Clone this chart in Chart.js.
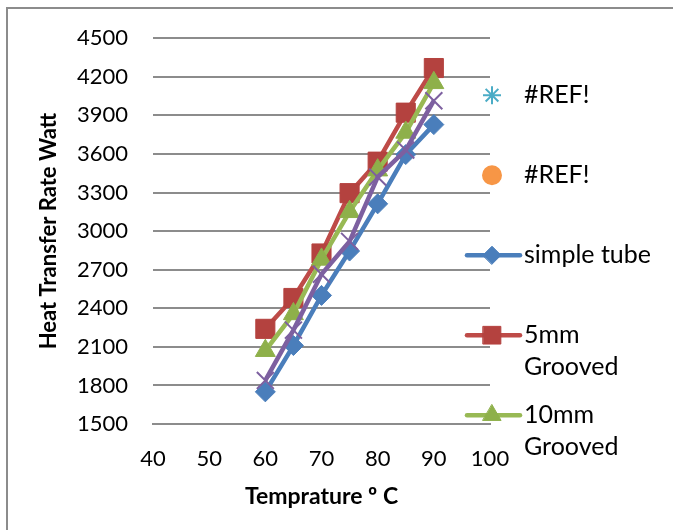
<!DOCTYPE html>
<html>
<head>
<meta charset="utf-8">
<script src="https://cdn.jsdelivr.net/npm/chart.js@4"></script>
<style>
  html, body { margin: 0; padding: 0; background: #fff; }
  #wrap { width: 673px; height: 530px; }
</style>
</head>
<body>
<div id="wrap"><canvas id="heatChart" width="673" height="530"></canvas></div>
<script>
var temps = [60, 65, 70, 75, 80, 85, 90];
var simpleTube = [1750, 2110, 2500, 2845, 3212, 3595, 3828];
var grooved5mm = [2240, 2480, 2826, 3295, 3540, 3921, 4268];
var grooved10mm = [2070, 2356, 2780, 3150, 3474, 3767, 4153];
var unnamedSeries = [1839, 2230, 2664, 2920, 3420, 3630, 4014];
var refSeries = [];
var seriesNames = ['#REF!', '#REF!', 'simple tube', '5mm Grooved', '10mm Grooved', ''];
var xTicks = [40, 50, 60, 70, 80, 90, 100];
var yTicks = [1500, 1800, 2100, 2400, 2700, 3000, 3300, 3600, 3900, 4200, 4500];

var FONT = 'Lato, "Liberation Sans", sans-serif';

function pts(values) {
    return values.map((v, i) => ({ x: temps[i], y: v }));
}

function series(name, values, color, style, radius, order, extra) {
    return Object.assign({
        label: name,
        data: pts(values),
        borderColor: color,
        backgroundColor: color,
        pointBackgroundColor: color,
        pointBorderColor: color,
        pointStyle: style,
        pointRadius: radius,
        pointBorderWidth: 1,
        borderWidth: 4.5,
        tension: 0,
        order: order
    }, extra || {});
}

var frame = {
    id: 'frame',
    beforeDraw(chart) {
        var ctx = chart.ctx;
        ctx.save();
        ctx.fillStyle = '#fff';
        ctx.fillRect(0, 0, chart.width, chart.height);
        ctx.strokeStyle = '#8c8c8c';
        ctx.lineWidth = 2;
        ctx.beginPath();
        ctx.moveTo(7, chart.height);
        ctx.lineTo(7, 8);
        ctx.lineTo(chart.width, 8);
        ctx.stroke();
        ctx.restore();
    }
};

var sideLegend = {
    id: 'sideLegend',
    afterDraw(chart) {
        var ctx = chart.ctx;
        var area = chart.chartArea;
        var y = area.top + 57;
        ctx.save();
        ctx.font = '25px ' + FONT;
        ctx.textBaseline = 'middle';
        ctx.textAlign = 'left';
        chart.data.datasets.forEach(function (ds) {
            if (!ds.inLegend) return;
            var mx = area.right + 2;
            if (ds.legendLine) {
                ctx.strokeStyle = ds.borderColor;
                ctx.lineWidth = 4.5;
                ctx.lineCap = 'round';
                ctx.beginPath();
                ctx.moveTo(mx - 25, y);
                ctx.lineTo(mx + 28, y);
                ctx.stroke();
            }
            ctx.fillStyle = ds.pointBackgroundColor;
            ctx.strokeStyle = ds.pointBorderColor;
            ctx.lineWidth = ds.legendLine ? 1 : 2;
            Chart.helpers.drawPoint(ctx, {
                pointStyle: ds.pointStyle,
                radius: ds.legendRadius,
                rotation: 0,
                borderWidth: ds.legendLine ? 1 : 2
            }, mx, y);
            // wrap long names like Excel does
            var words = ds.label.split(' ');
            var lines = [];
            var cur = '';
            words.forEach(function (w) {
                var t = cur ? cur + ' ' + w : w;
                if (cur && ctx.measureText(t).width > 135) {
                    lines.push(cur);
                    cur = w;
                } else {
                    cur = t;
                }
            });
            lines.push(cur);
            ctx.fillStyle = '#000';
            lines.forEach(function (l, i) {
                ctx.fillText(l, area.right + 34, y + i * 32);
            });
            y += 80;
        });
        ctx.restore();
    }
};

var heat = new Chart(document.getElementById('heatChart'), {
    type: 'line',
    data: {
        datasets: [
            series(seriesNames[0], refSeries, '#4BACC6', 'star', 9, 6, { inLegend: true, legendRadius: 9, showLine: false }),
            series(seriesNames[1], refSeries, '#F79646', 'circle', 9, 5, { inLegend: true, legendRadius: 9, showLine: false }),
            series(seriesNames[2], simpleTube, '#4A7EBB', 'rectRot', 10, 4, { inLegend: true, legendLine: true, legendRadius: 9 }),
            series(seriesNames[3], grooved5mm, '#BE4B48', 'rect', 13.5, 3, { inLegend: true, legendLine: true, legendRadius: 12.5, pointBackgroundColor: '#B4423F', pointBorderColor: '#B4423F' }),
            series(seriesNames[4], grooved10mm, '#98B954', 'triangle', 11.5, 2, { inLegend: true, legendLine: true, legendRadius: 10.5, pointBackgroundColor: '#8EB04A', pointBorderColor: '#8EB04A' }),
            series(seriesNames[5], unnamedSeries, '#7D60A0', 'crossRot', 12, 1, { pointBorderWidth: 2 })
        ]
    },
    options: {
        responsive: false,
        animation: false,
        layout: { padding: { left: 0, right: 183, top: 35, bottom: 0 } },
        plugins: {
            legend: { display: false },
            tooltip: { enabled: false }
        },
        scales: {
            x: {
                type: 'linear',
                min: 40,
                max: 100,
                afterBuildTicks: function (scale) { scale.ticks = xTicks.map(v => ({ value: v })); },
                afterFit: function (scale) { scale.height = 106; },
                grid: { display: false, drawTicks: false },
                border: { display: true, color: '#8c8c8c', width: 2 },
                ticks: { color: '#000', font: { family: FONT, size: 22 }, padding: 22, maxRotation: 0 },
                title: {
                    display: true,
                    text: 'Temprature º C',
                    color: '#000',
                    font: { family: FONT, size: 23, weight: 'bold' },
                    padding: { top: 0, bottom: 20 }
                }
            },
            y: {
                min: 1500,
                max: 4500,
                afterBuildTicks: function (scale) { scale.ticks = yTicks.map(v => ({ value: v })); },
                afterFit: function (scale) { scale.width = 153; },
                grid: { color: '#8c8c8c', lineWidth: 2, drawTicks: false },
                border: { display: false },
                ticks: {
                    color: '#000',
                    font: { family: FONT, size: 22 },
                    padding: 25,
                    callback: function (v) { return String(v); }
                },
                title: {
                    display: true,
                    text: 'Heat Transfer Rate Watt',
                    color: '#000',
                    font: { family: FONT, size: 22, weight: 'bold' },
                    padding: { top: 36, bottom: 0 }
                }
            }
        }
    },
    plugins: [frame, sideLegend]
});
</script>
</body>
</html>
